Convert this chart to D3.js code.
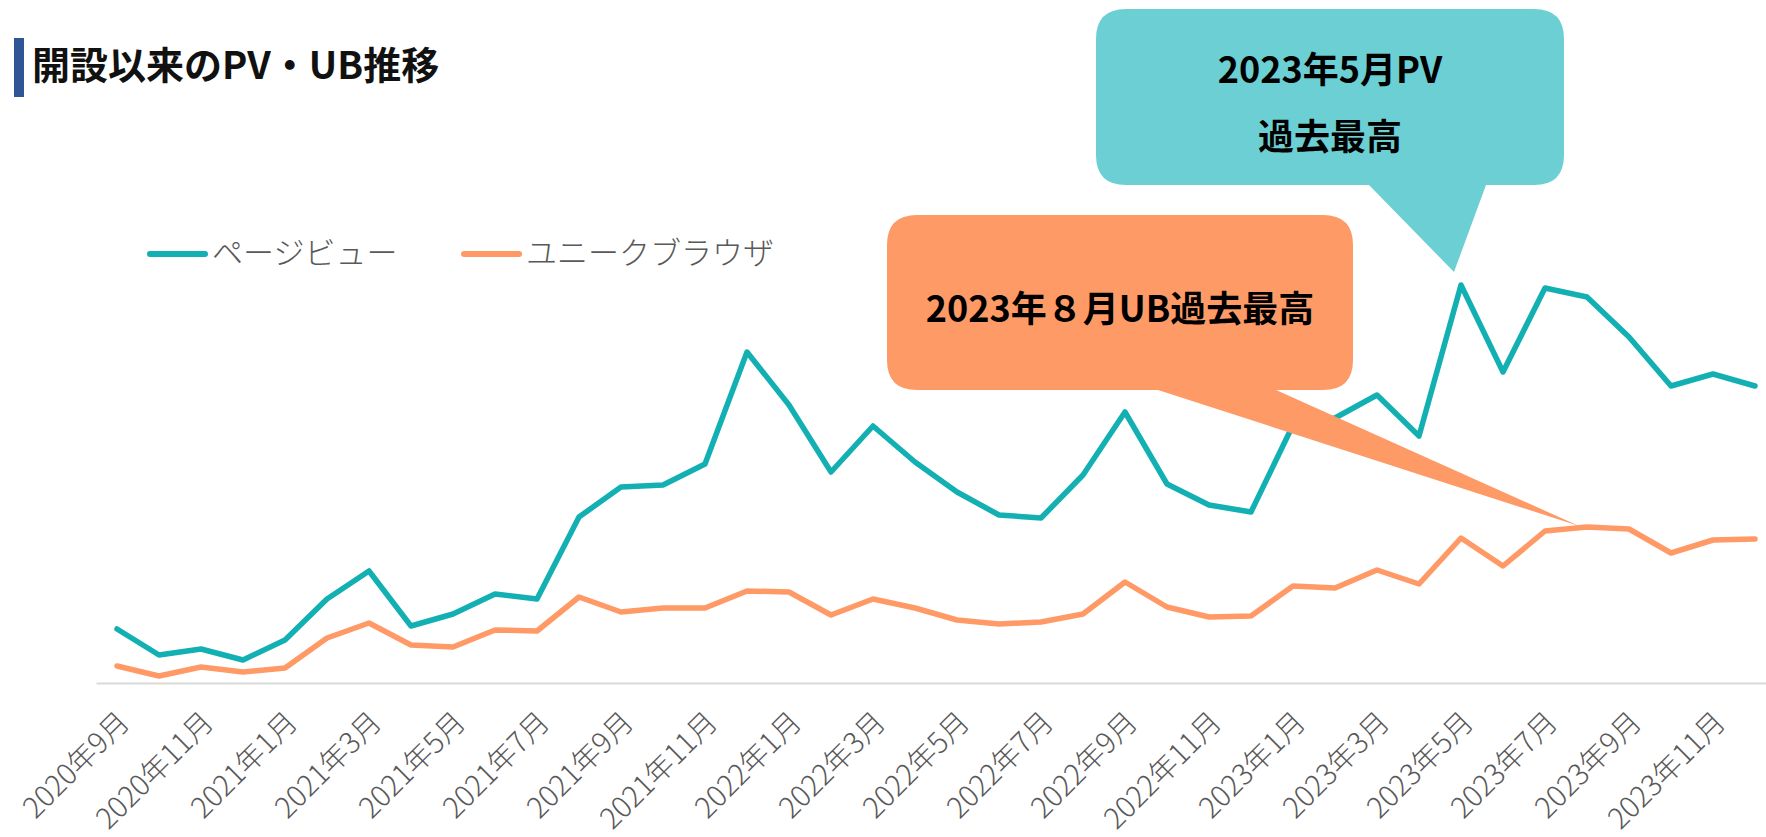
<!DOCTYPE html>
<html>
<head>
<meta charset="utf-8">
<script src="https://cdn.jsdelivr.net/npm/d3@7"></script>
<style>
  body { margin: 0; background: #fff; }
  svg { display: block; font-family: "Noto Sans CJK JP", "Noto Sans", sans-serif; }
</style>
</head>
<body>
<svg width="1766" height="837"></svg>
<script>
// months 2020-09 .. 2023-12
var months = ["2020年9月","2020年10月","2020年11月","2020年12月",
  "2021年1月","2021年2月","2021年3月","2021年4月","2021年5月","2021年6月",
  "2021年7月","2021年8月","2021年9月","2021年10月","2021年11月","2021年12月",
  "2022年1月","2022年2月","2022年3月","2022年4月","2022年5月","2022年6月",
  "2022年7月","2022年8月","2022年9月","2022年10月","2022年11月","2022年12月",
  "2023年1月","2023年2月","2023年3月","2023年4月","2023年5月","2023年6月",
  "2023年7月","2023年8月","2023年9月","2023年10月","2023年11月","2023年12月"];
var tickLabels = months.filter(function(d, i){ return i % 2 == 0; });
var pageViews = [5400,2800,3400,2300,4300,8400,11200,5700,6900,8900,
  8400,16600,19600,19800,21900,33100,27800,21100,25700,22100,
  19100,16800,16500,20800,27100,19900,17800,17100,25800,26500,
  28800,24700,39800,31100,39500,38600,34600,29700,30900,29700];
var uniqueBrowsers = [1700,700,1600,1100,1500,4500,6000,3800,3600,5300,
  5200,8600,7100,7500,7500,9200,9100,6800,8400,7500,
  6300,5900,6100,6900,10100,7600,6600,6700,9700,9500,
  11300,9900,14500,11700,15200,15600,15400,13000,14300,14400];
var seriesNames = ["ページビュー", "ユニークブラウザ"];
var title = "開設以来のPV・UB推移";

const tealLine = "#13b0b3", orangeLine = "#ff9a66";
const svg = d3.select("svg");

var x = d3.scaleBand().domain(months).range([96, 1776]);
var y = d3.scaleLinear().domain([0, 40000]).range([683, 283]);
function cx(d){ return x(d) + x.bandwidth()/2; }

// title
svg.append("rect").attr("x", 14).attr("y", 38).attr("width", 10).attr("height", 59).attr("fill", "#2f5597");
svg.append("text").attr("x", 32).attr("y", 66).attr("dy", "0.35em")
  .style("font-size", "38px").style("font-weight", "bold").attr("fill", "#111")
  .text(title);

// axis
var ax = svg.append("g").attr("transform", "translate(0,683)")
  .call(d3.axisBottom(x).tickValues(tickLabels).tickSize(0).tickSizeOuter(0));
ax.select(".domain").attr("stroke", "#d9d9d9").attr("stroke-width", 2);
ax.selectAll("text")
  .attr("transform", "translate(10,31) rotate(-45)")
  .attr("x", -4).attr("y", 0).attr("dy", "0.35em")
  .style("text-anchor", "end").style("font-size", "29px").style("font-weight", 300)
  .style("font-family", "'Noto Sans CJK JP', sans-serif")
  .attr("fill", "#595959");

// lines
var line = d3.line().x(function(d, i){ return cx(months[i]); }).y(function(d){ return y(d); });
svg.append("path").datum(uniqueBrowsers).attr("d", line)
  .attr("fill", "none").attr("stroke", orangeLine).attr("stroke-width", 5.5).attr("stroke-linejoin", "round").attr("stroke-linecap", "round");
svg.append("path").datum(pageViews).attr("d", line)
  .attr("fill", "none").attr("stroke", tealLine).attr("stroke-width", 5.5).attr("stroke-linejoin", "round").attr("stroke-linecap", "round");

// legend
var leg = [[150, tealLine, seriesNames[0]], [464, orangeLine, seriesNames[1]]];
leg.forEach(function(l){
  svg.append("line").attr("x1", l[0]).attr("x2", l[0] + 55).attr("y1", 254).attr("y2", 254)
    .attr("stroke", l[1]).attr("stroke-width", 6).attr("stroke-linecap", "round");
  svg.append("text").attr("x", l[0] + 62).attr("y", 253).attr("dy", "0.35em")
    .style("font-size", "31px").style("font-weight", 300).attr("fill", "#595959").text(l[2]);
});

// callouts
function callout(box, tail, fill, lines){
  var r = 30, x0 = box[0], y0 = box[1], x1 = box[2], y1 = box[3];
  var p = d3.path();
  p.moveTo(x0 + r, y0); p.lineTo(x1 - r, y0); p.quadraticCurveTo(x1, y0, x1, y0 + r);
  p.lineTo(x1, y1 - r); p.quadraticCurveTo(x1, y1, x1 - r, y1);
  p.lineTo(tail[2], y1); p.lineTo(tail[4], tail[5]); p.lineTo(tail[0], y1);
  p.lineTo(x0 + r, y1); p.quadraticCurveTo(x0, y1, x0, y1 - r);
  p.lineTo(x0, y0 + r); p.quadraticCurveTo(x0, y0, x0 + r, y0); p.closePath();
  svg.append("path").attr("d", p.toString()).attr("fill", fill);
  lines.forEach(function(t){
    svg.append("text").attr("x", (x0 + x1)/2).attr("y", t[1]).attr("dy", "0.35em")
      .attr("text-anchor", "middle").style("font-size", "36px").style("font-weight", "bold")
      .attr("fill", "#000").text(t[0]);
  });
}
var pvMax = months.indexOf("2023年5月"), ubMax = months.indexOf("2023年8月");
callout([1096, 9, 1564, 185], [1369, 185, 1486, 185, cx(months[pvMax]) - 7, y(pageViews[pvMax]) - 13],
  "#6bcfd3", [["2023年5月PV", 70], ["過去最高", 137]]);
callout([887, 215, 1353, 390], [1158, 390, 1276, 390, cx(months[ubMax]) - 8, y(uniqueBrowsers[ubMax]) - 1],
  "#fe9a66", [["2023年８月UB過去最高", 309]]);
</script>
</body>
</html>
